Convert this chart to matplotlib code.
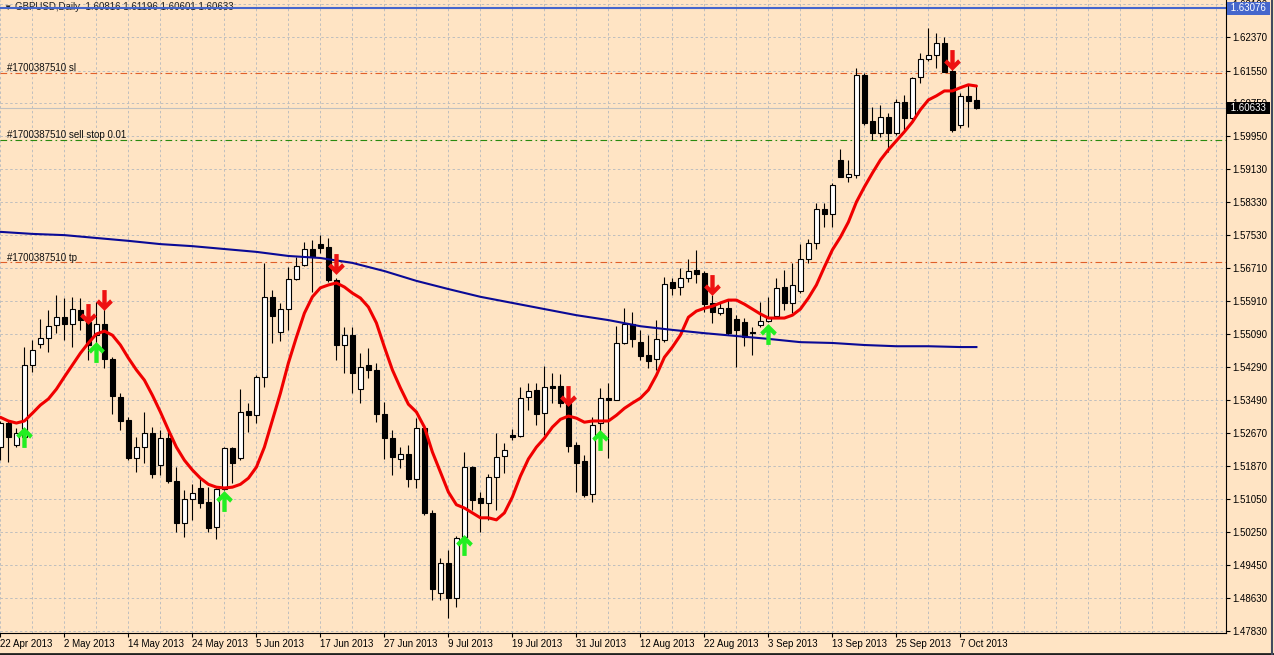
#GBPUSD daily chart in MT4 style: candles, moving averages, signal arrows, order lines

import numpy as np
import matplotlib
matplotlib.use('Agg')
import matplotlib.pyplot as plt
from matplotlib.path import Path
from matplotlib.lines import Line2D

plt.rcParams['font.family'] = ['Liberation Sans', 'DejaVu Sans']
plt.rcParams['font.size'] = 7

# daily bars 22 Apr 2013 .. 9 Oct 2013
opens = [1.5233, 1.5292, 1.5238, 1.5257, 1.5434, 1.5485, 1.5500, 1.5532, 1.5551, 1.5534,
         1.5569, 1.5539, 1.5507, 1.5534, 1.5449, 1.5356, 1.5299, 1.5206, 1.5233, 1.5267,
         1.5189, 1.5255, 1.5150, 1.5048, 1.5106, 1.5133, 1.5099, 1.5038, 1.5130, 1.5230,
         1.5206, 1.5321, 1.5311, 1.5405, 1.5601, 1.5515, 1.5571, 1.5645, 1.5679, 1.5718,
         1.5730, 1.5723, 1.5642, 1.5483, 1.5507, 1.5375, 1.5434, 1.5422, 1.5314, 1.5255,
         1.5204, 1.5216, 1.5155, 1.5279, 1.5072, 1.4876, 1.4950, 1.4864, 1.5013, 1.5184,
         1.5108, 1.5097, 1.5160, 1.5211, 1.5262, 1.5260, 1.5356, 1.5373, 1.5316, 1.5382,
         1.5382, 1.5341, 1.5238, 1.5199, 1.5118, 1.5292, 1.5353, 1.5348, 1.5488, 1.5534,
         1.5490, 1.5458, 1.5449, 1.5495, 1.5637, 1.5625, 1.5647, 1.5667, 1.5659, 1.5586,
         1.5561, 1.5573, 1.5546, 1.5539, 1.5515, 1.5532, 1.5542, 1.5554, 1.5625, 1.5586,
         1.5615, 1.5694, 1.5733, 1.5816, 1.5804, 1.5936, 1.5895, 1.5899, 1.6144, 1.6032,
         1.6002, 1.6041, 1.6002, 1.6078, 1.6039, 1.6140, 1.6184, 1.6193, 1.6223, 1.6154,
         1.6022, 1.6093, 1.60816]
highs = [1.5297, 1.5297, 1.5279, 1.5478, 1.5495, 1.5546, 1.5569, 1.5605, 1.5598, 1.5601,
         1.5598, 1.5556, 1.5588, 1.5573, 1.5453, 1.5365, 1.5306, 1.5257, 1.5319, 1.5282,
         1.5275, 1.5275, 1.5184, 1.5128, 1.5142, 1.5155, 1.5135, 1.5133, 1.5233, 1.5233,
         1.5375, 1.5341, 1.5409, 1.5684, 1.5618, 1.5586, 1.5674, 1.5698, 1.5735, 1.5740,
         1.5752, 1.5745, 1.5647, 1.5527, 1.5527, 1.5463, 1.5475, 1.5439, 1.5343, 1.5275,
         1.5233, 1.5238, 1.5304, 1.5287, 1.5080, 1.4962, 1.4982, 1.5016, 1.5221, 1.5186,
         1.5123, 1.5167, 1.5267, 1.5243, 1.5277, 1.5380, 1.5390, 1.5390, 1.5431, 1.5414,
         1.5412, 1.5343, 1.5245, 1.5213, 1.5306, 1.5378, 1.5390, 1.5529, 1.5573, 1.5564,
         1.5520, 1.5507, 1.5544, 1.5650, 1.5647, 1.5672, 1.5694, 1.5716, 1.5664, 1.5605,
         1.5588, 1.5593, 1.5556, 1.5549, 1.5527, 1.5588, 1.5601, 1.5647, 1.5667, 1.5684,
         1.5730, 1.5743, 1.5831, 1.5831, 1.5880, 1.5963, 1.5936, 1.6162, 1.6149, 1.6066,
         1.6071, 1.6051, 1.6086, 1.6095, 1.6140, 1.6198, 1.6259, 1.6247, 1.6237, 1.6159,
         1.6100, 1.6120, 1.61196]
lows = [1.5201, 1.5196, 1.5233, 1.5250, 1.5417, 1.5475, 1.5466, 1.5512, 1.5495, 1.5478,
        1.5520, 1.5446, 1.5483, 1.5427, 1.5314, 1.5275, 1.5201, 1.5172, 1.5194, 1.5157,
        1.5164, 1.5145, 1.5026, 1.5013, 1.5055, 1.5084, 1.5026, 1.5009, 1.5128, 1.5145,
        1.5201, 1.5270, 1.5292, 1.5380, 1.5488, 1.5493, 1.5520, 1.5642, 1.5676, 1.5613,
        1.5708, 1.5637, 1.5446, 1.5414, 1.5365, 1.5341, 1.5402, 1.5294, 1.5204, 1.5164,
        1.5182, 1.5135, 1.5133, 1.5067, 1.4859, 1.4859, 1.4815, 1.4842, 1.5013, 1.5080,
        1.5026, 1.5055, 1.5080, 1.5169, 1.5250, 1.5257, 1.5324, 1.5287, 1.5262, 1.5341,
        1.5331, 1.5221, 1.5123, 1.5111, 1.5099, 1.5267, 1.5206, 1.5348, 1.5485, 1.5478,
        1.5446, 1.5427, 1.5422, 1.5490, 1.5605, 1.5605, 1.5637, 1.5635, 1.5564, 1.5537,
        1.5556, 1.5507, 1.5429, 1.5480, 1.5458, 1.5527, 1.5539, 1.5551, 1.5569, 1.5561,
        1.5610, 1.5684, 1.5718, 1.5772, 1.5772, 1.5895, 1.5882, 1.5892, 1.6022, 1.5985,
        1.5992, 1.5956, 1.5997, 1.6010, 1.6034, 1.6125, 1.6179, 1.6162, 1.6152, 1.6005,
        1.6014, 1.6017, 1.60601]
closes = [1.5292, 1.5257, 1.5267, 1.5434, 1.5471, 1.5500, 1.5529, 1.5551, 1.5534, 1.5571,
          1.5544, 1.5483, 1.5534, 1.5449, 1.5358, 1.5297, 1.5206, 1.5233, 1.5267, 1.5167,
          1.5255, 1.5150, 1.5048, 1.5106, 1.5120, 1.5097, 1.5035, 1.5130, 1.5230, 1.5194,
          1.5319, 1.5311, 1.5405, 1.5601, 1.5554, 1.5571, 1.5645, 1.5676, 1.5718, 1.5698,
          1.5720, 1.5642, 1.5483, 1.5507, 1.5414, 1.5429, 1.5422, 1.5314, 1.5255, 1.5208,
          1.5216, 1.5155, 1.5279, 1.5072, 1.4886, 1.4950, 1.4864, 1.5011, 1.5184, 1.5104,
          1.5097, 1.5160, 1.5208, 1.5226, 1.5257, 1.5353, 1.5370, 1.5314, 1.5380, 1.5378,
          1.5341, 1.5235, 1.5194, 1.5115, 1.5287, 1.5353, 1.5348, 1.5488, 1.5534, 1.5498,
          1.5456, 1.5444, 1.5498, 1.5632, 1.5623, 1.5647, 1.5664, 1.5657, 1.5583, 1.5564,
          1.5573, 1.5512, 1.5520, 1.5502, 1.5512, 1.5542, 1.5549, 1.5623, 1.5586, 1.5630,
          1.5694, 1.5733, 1.5816, 1.5804, 1.5875, 1.5895, 1.5902, 1.6144, 1.6027, 1.6002,
          1.6041, 1.6002, 1.6078, 1.6039, 1.6137, 1.6184, 1.6193, 1.6223, 1.6152, 1.6010,
          1.6093, 1.6081, 1.60633]

# red fast MA, one value per bar
ma_fast = [1.5306, 1.5297, 1.5292, 1.5297, 1.5316, 1.5336, 1.5351, 1.5375, 1.5405, 1.5434,
           1.5463, 1.5488, 1.5510, 1.5517, 1.5507, 1.5483, 1.5451, 1.5422, 1.5397, 1.5360,
           1.5319, 1.5275, 1.5233, 1.5201, 1.5177, 1.5157, 1.5142, 1.5135, 1.5133, 1.5135,
           1.5142, 1.5157, 1.5184, 1.5233, 1.5299, 1.5365, 1.5439, 1.5502, 1.5561, 1.5601,
           1.5623, 1.5630, 1.5635, 1.5625, 1.5610, 1.5598, 1.5576, 1.5537, 1.5478, 1.5422,
           1.5378, 1.5338, 1.5319, 1.5282, 1.5221, 1.5172, 1.5123, 1.5092, 1.5084, 1.5072,
           1.5060, 1.5060, 1.5055, 1.5072, 1.5111, 1.5162, 1.5204, 1.5233, 1.5255, 1.5282,
           1.5301, 1.5309, 1.5304, 1.5294, 1.5297, 1.5297, 1.5297, 1.5311, 1.5328, 1.5341,
           1.5353, 1.5373, 1.5409, 1.5453, 1.5478, 1.5507, 1.5551, 1.5566, 1.5573, 1.5578,
           1.5586, 1.5593, 1.5593, 1.5583, 1.5571, 1.5559, 1.5549, 1.5549, 1.5549, 1.5556,
           1.5571, 1.5598, 1.5630, 1.5674, 1.5716, 1.5747, 1.5784, 1.5833, 1.5870, 1.5904,
           1.5936, 1.5961, 1.5983, 1.6005, 1.6029, 1.6059, 1.6083, 1.6093, 1.6105, 1.6105,
           1.6113, 1.6120, 1.6117]

# blue slow MA, read every 4 bars
ma_slow_bars = [0, 4, 8, 12, 16, 20, 24, 28, 32, 36, 40, 44, 48, 52, 56, 60,
                64, 68, 72, 76, 80, 84, 88, 92, 96, 100, 104, 108, 112, 116, 120, 122]
ma_slow = [1.5760, 1.5755, 1.5752, 1.5745, 1.5738, 1.5730, 1.5725, 1.5718, 1.5711, 1.5701,
           1.5696, 1.5684, 1.5664, 1.5640, 1.5620, 1.5601, 1.5586, 1.5571, 1.5556, 1.5544,
           1.5529, 1.5520, 1.5512, 1.5505, 1.5498, 1.5490, 1.5488, 1.5483, 1.5480, 1.5480,
           1.5478, 1.5478]

# signal arrows
sell_bars = [11, 13, 42, 71, 89, 119]
sell_marks = [1.5558, 1.5593, 1.5681, 1.5357, 1.5630, 1.6181]
buy_bars = [3, 12, 28, 58, 75, 96]
buy_marks = [1.5259, 1.5465, 1.5101, 1.4993, 1.5251, 1.5511]

date_labels = ['22 Apr 2013', '2 May 2013', '14 May 2013', '24 May 2013', '5 Jun 2013',
               '17 Jun 2013', '27 Jun 2013', '9 Jul 2013', '19 Jul 2013', '31 Jul 2013',
               '12 Aug 2013', '22 Aug 2013', '3 Sep 2013', '13 Sep 2013', '25 Sep 2013',
               '7 Oct 2013']
price_ticks = [1.63190, 1.62370, 1.61550, 1.60750, 1.59950, 1.59130, 1.58330, 1.57530,
               1.56710, 1.55910, 1.55090, 1.54290, 1.53490, 1.52670, 1.51870, 1.51050,
               1.50250, 1.49450, 1.48630, 1.47830]

hline_price = 1.63076
bid_price = 1.60633
sl_price = 1.6150
sellstop_price = 1.5985
tp_price = 1.5685
ticket = '#1700387510'

BG = '#FFE4C4'
W, H = 1274, 655

fig = plt.figure(figsize=(W / 100, H / 100), dpi=100, facecolor=BG)
ax = fig.add_axes([0, 22 / H, 1226 / W, 633 / H])
ax.set_facecolor(BG)
ax.set_axisbelow(True)

x = np.arange(len(opens))
o = np.array(opens); c = np.array(closes)
hi = np.array(highs); lo = np.array(lows)
up = c >= o
bot = np.minimum(o, c)
hgt = np.maximum(np.abs(c - o), 0.00002)

ax.vlines(x, lo, hi, color='black', lw=0.8, zorder=3)
ax.bar(x[up], hgt[up], bottom=bot[up], width=0.6, facecolor='white',
       edgecolor='black', lw=0.8, zorder=4)
ax.bar(x[~up], hgt[~up], bottom=bot[~up], width=0.6, facecolor='black',
       edgecolor='black', lw=0.8, zorder=4)

ax.plot(x, ma_fast, color='#F00000', lw=2.2, zorder=5, solid_capstyle='round')
ax.plot(ma_slow_bars, ma_slow, color='#0A0A96', lw=1.5, zorder=5)

# bold arrow markers (shaft + chevron head)
dv = [(-0.24, 1.15), (0.24, 1.15), (0.24, -0.25), (0.62, 0.13), (0.92, -0.23),
      (0.0, -1.15), (-0.92, -0.23), (-0.62, 0.13), (-0.24, -0.25), (-0.24, 1.15)]
codes = [Path.MOVETO] + [Path.LINETO] * 8 + [Path.CLOSEPOLY]
down_arrow = Path(dv, codes)
up_arrow = Path([(px, -py) for px, py in dv], codes)
ax.plot(sell_bars, sell_marks, ls='none', marker=down_arrow, ms=15, mew=0,
        color='#EE1111', zorder=6)
ax.plot(buy_bars, buy_marks, ls='none', marker=up_arrow, ms=15, mew=0,
        color='#22EE22', zorder=6)

# order / price lines
ax.axhline(hline_price, color='#4566CC', lw=1.5, zorder=2)
ax.axhline(bid_price, color='#C0C0C0', lw=0.8, zorder=1)
dashdot = (0, (6, 3, 1.5, 3))
ax.axhline(sl_price, color='#E0602A', lw=0.8, ls=dashdot, zorder=2)
ax.axhline(tp_price, color='#E0602A', lw=0.8, ls=dashdot, zorder=2)
ax.axhline(sellstop_price, color='#2A8A10', lw=0.8, ls=dashdot, zorder=2)

for txt, val in [(ticket + ' sl', sl_price), (ticket + ' sell stop 0.01', sellstop_price),
                 (ticket + ' tp', tp_price)]:
    ax.annotate(txt, xy=(7 / 1226, val), xycoords=('axes fraction', 'data'),
                xytext=(0, 1.2), textcoords='offset points', va='baseline',
                ha='left', fontsize=7, color='#101010', zorder=6)

ax.text(3 / 1226, 1 - 10 / 633, '\u25bc', transform=ax.transAxes, fontsize=6,
        va='baseline', ha='left', color='#202020', zorder=1)
ax.text(15 / 1226, 1 - 10 / 633, 'GBPUSD,Daily  1.60816 1.61196 1.60601 1.60633',
        transform=ax.transAxes, fontsize=7, va='baseline', ha='left',
        color='#202020', zorder=1)

# axes
ax.set_xlim(-0.05, 153.2)
ax.set_ylim(1.47780, 1.63276)
ax.set_xticks(np.arange(0, 121, 8))
ax.set_xticklabels(date_labels)
ax.set_xticks(np.arange(0, 154, 4), minor=True)
for lab in ax.get_xticklabels():
    lab.set_ha('left')
ax.yaxis.tick_right()
ax.set_yticks(price_ticks)
ax.set_yticklabels([f'{p:.5f}' for p in price_ticks])
ax.tick_params(axis='both', which='major', direction='out', length=3, width=0.8,
               pad=1.5, labelsize=7, colors='black')
ax.tick_params(axis='x', which='minor', length=0)
ax.grid(True, which='both', color='#BEBEBE', ls=(0, (2.5, 2.5)), lw=0.7)
for s in ['left', 'top']:
    ax.spines[s].set_visible(False)
for s in ['right', 'bottom']:
    ax.spines[s].set_color('black')
    ax.spines[s].set_linewidth(0.8)

# price boxes on the scale
for val, fc in [(hline_price, '#4566CC'), (bid_price, 'black')]:
    ax.annotate(f' {val:.5f} ', xy=(1, val), xycoords=('axes fraction', 'data'),
                xytext=(1.5, 0), textcoords='offset points', ha='left', va='center',
                color='white', fontsize=7, zorder=10, annotation_clip=False,
                bbox=dict(boxstyle='square,pad=0.15', fc=fc, ec='none'))

# window borders
fig.add_artist(Line2D([0, 1], [1.5 / H, 1.5 / H], transform=fig.transFigure,
                      color='#202020', lw=2))
fig.add_artist(Line2D([1 - 2 / W, 1 - 2 / W], [0, 1], transform=fig.transFigure,
                      color='#404a60', lw=1.5))

fig.savefig('out.png', dpi=100, facecolor=BG)
